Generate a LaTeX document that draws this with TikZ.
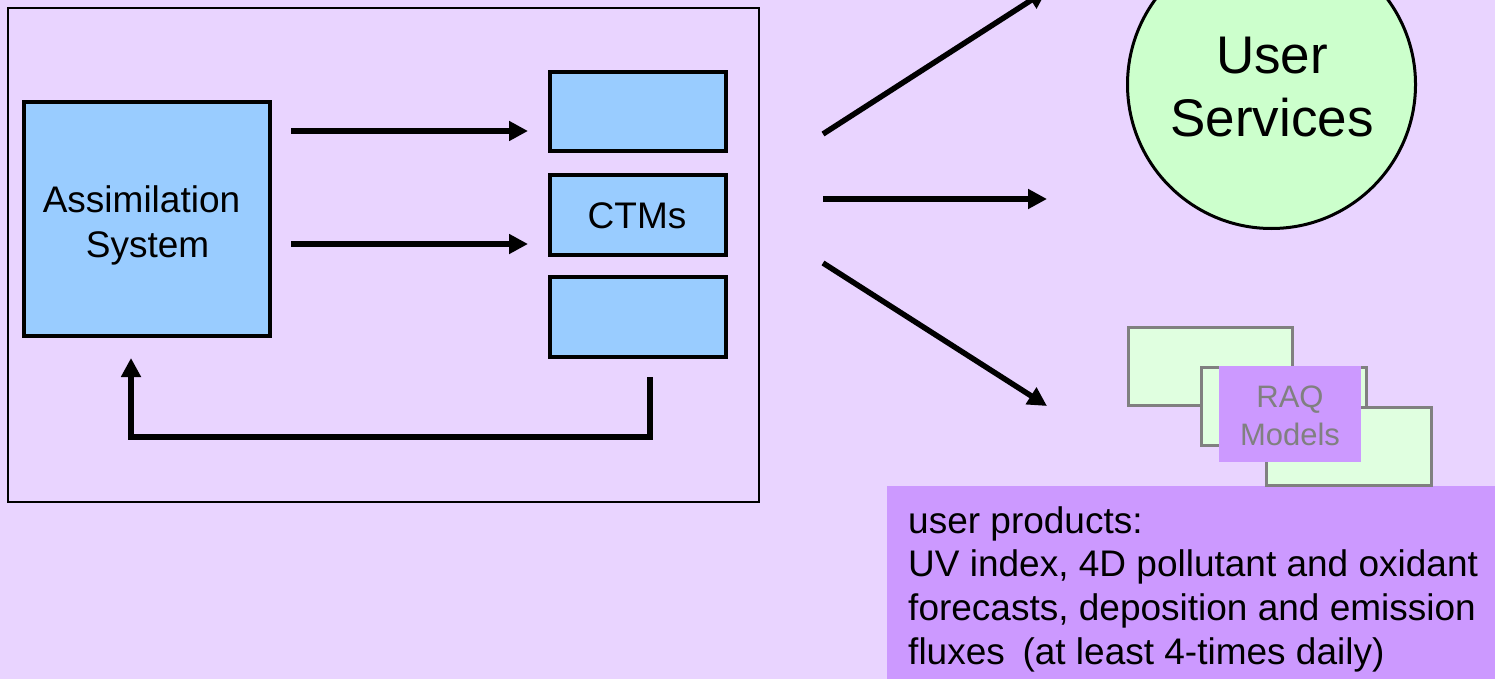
\documentclass[tikz,border=0pt]{standalone}
\usepackage{fontspec}
\setmainfont{Liberation Sans}
\usetikzlibrary{arrows.meta}
\definecolor{bgcol}{HTML}{E9D4FF}
\definecolor{boxblue}{HTML}{99CCFF}
\definecolor{circgreen}{HTML}{CCFFCC}
\definecolor{raqgreen}{HTML}{E0FFE0}
\definecolor{raqgray}{HTML}{808080}
\definecolor{prodpurple}{HTML}{CC99FF}
\tikzset{
  bluebox/.style={draw=black, line width=4pt, fill=boxblue, inner sep=0pt},
  raqbox/.style={draw=raqgray, line width=3pt, fill=raqgreen, inner sep=0pt},
  flow/.style={line width=5.5pt, -{Triangle[length=19pt,width=19pt]}},
  lbl/.style={anchor=base, inner sep=0pt, font=\fontsize{37}{44}\selectfont},
  biglbl/.style={anchor=base, inner sep=0pt, font=\fontsize{53}{63}\selectfont},
  raqlbl/.style={anchor=base, inner sep=0pt, text=raqgray, font=\fontsize{31}{38}\selectfont},
  prodlbl/.style={anchor=base west, inner sep=0pt, font=\fontsize{37}{43}\selectfont},
}
\begin{document}
\begin{tikzpicture}[x=1pt,y=-1pt]
\useasboundingbox (0,0) rectangle (1495,679);
\fill[bgcol] (0,0) rectangle (1495,679);
\begin{scope}
\clip (0,0) rectangle (1495,679);
% outer frame
\node[draw=black, line width=2pt, minimum width=751pt, minimum height=494pt, inner sep=0pt] (frame) at (383.5,255) {};
% assimilation system
\node[bluebox, minimum width=246pt, minimum height=234pt] (asm) at (147,219) {};
\node[lbl] (asmt1) at (141.5,212) {Assimilation};
\node[lbl] (asmt2) at (147.5,257) {System};
% CTM boxes
\node[bluebox, minimum width=176pt, minimum height=79pt] (ctm1) at (638,111.5) {};
\node[bluebox, minimum width=176pt, minimum height=80pt] (ctm2) at (638,215) {};
\node[bluebox, minimum width=176pt, minimum height=80pt] (ctm3) at (638,317) {};
\node[lbl] (ctmt) at (637,228) {CTMs};
% arrows from assimilation to CTMs
\coordinate (a1s) at (291,131); \coordinate (a1e) at (528,131);
\coordinate (a2s) at (291,244); \coordinate (a2e) at (528,244);
\draw[flow] (a1s) -- (a1e);
\draw[flow] (a2s) -- (a2e);
% feedback loop
\coordinate (fbs) at (650,377); \coordinate (fbr) at (650,437);
\coordinate (fbl) at (131,437); \coordinate (fbe) at (131,358);
\draw[flow, line join=miter] (fbs) -- (fbr) -- (fbl) -- (fbe);
% outgoing arrows
\coordinate (o1s) at (823,134); \coordinate (o1e) at (1047,-10);
\coordinate (o2s) at (823,199); \coordinate (o2e) at (1047,199);
\coordinate (o3s) at (823,263); \coordinate (o3e) at (1047,406);
\draw[flow] (o1s) -- (o1e);
\draw[flow] (o2s) -- (o2e);
\draw[flow] (o3s) -- (o3e);
% user services
\node[circle, draw=black, line width=3pt, fill=circgreen, minimum size=288pt, inner sep=0pt] (us) at (1271.5,84.5) {};
\node[biglbl] (ust1) at (1272,74) {User};
\node[biglbl] (ust2) at (1272,137) {Services};
% user products box
\node[fill=prodpurple, minimum width=608pt, minimum height=193pt, inner sep=0pt] (prod) at (1191,582.5) {};
\node[prodlbl] (pt1) at (908,533) {user products:};
\node[prodlbl] (pt2) at (908,576) {UV index, 4D pollutant and oxidant};
\node[prodlbl] (pt3) at (908,620) {forecasts, deposition and emission};
\node[prodlbl] (pt4) at (908,664) {fluxes\hspace{0.2em} (at least 4-times daily)};
% RAQ models
\node[raqbox, minimum width=164pt, minimum height=78pt] (r1) at (1210.5,366.5) {};
\node[raqbox, minimum width=165pt, minimum height=78pt] (r2) at (1284,406.5) {};
\node[raqbox, minimum width=165pt, minimum height=78pt] (r3) at (1349,446.5) {};
\node[fill=prodpurple, minimum width=142pt, minimum height=96pt, inner sep=0pt] (raq) at (1290,414) {};
\node[raqlbl] (raqt1) at (1290,407) {RAQ};
\node[raqlbl] (raqt2) at (1290,445) {Models};
\end{scope}
\end{tikzpicture}
\end{document}
